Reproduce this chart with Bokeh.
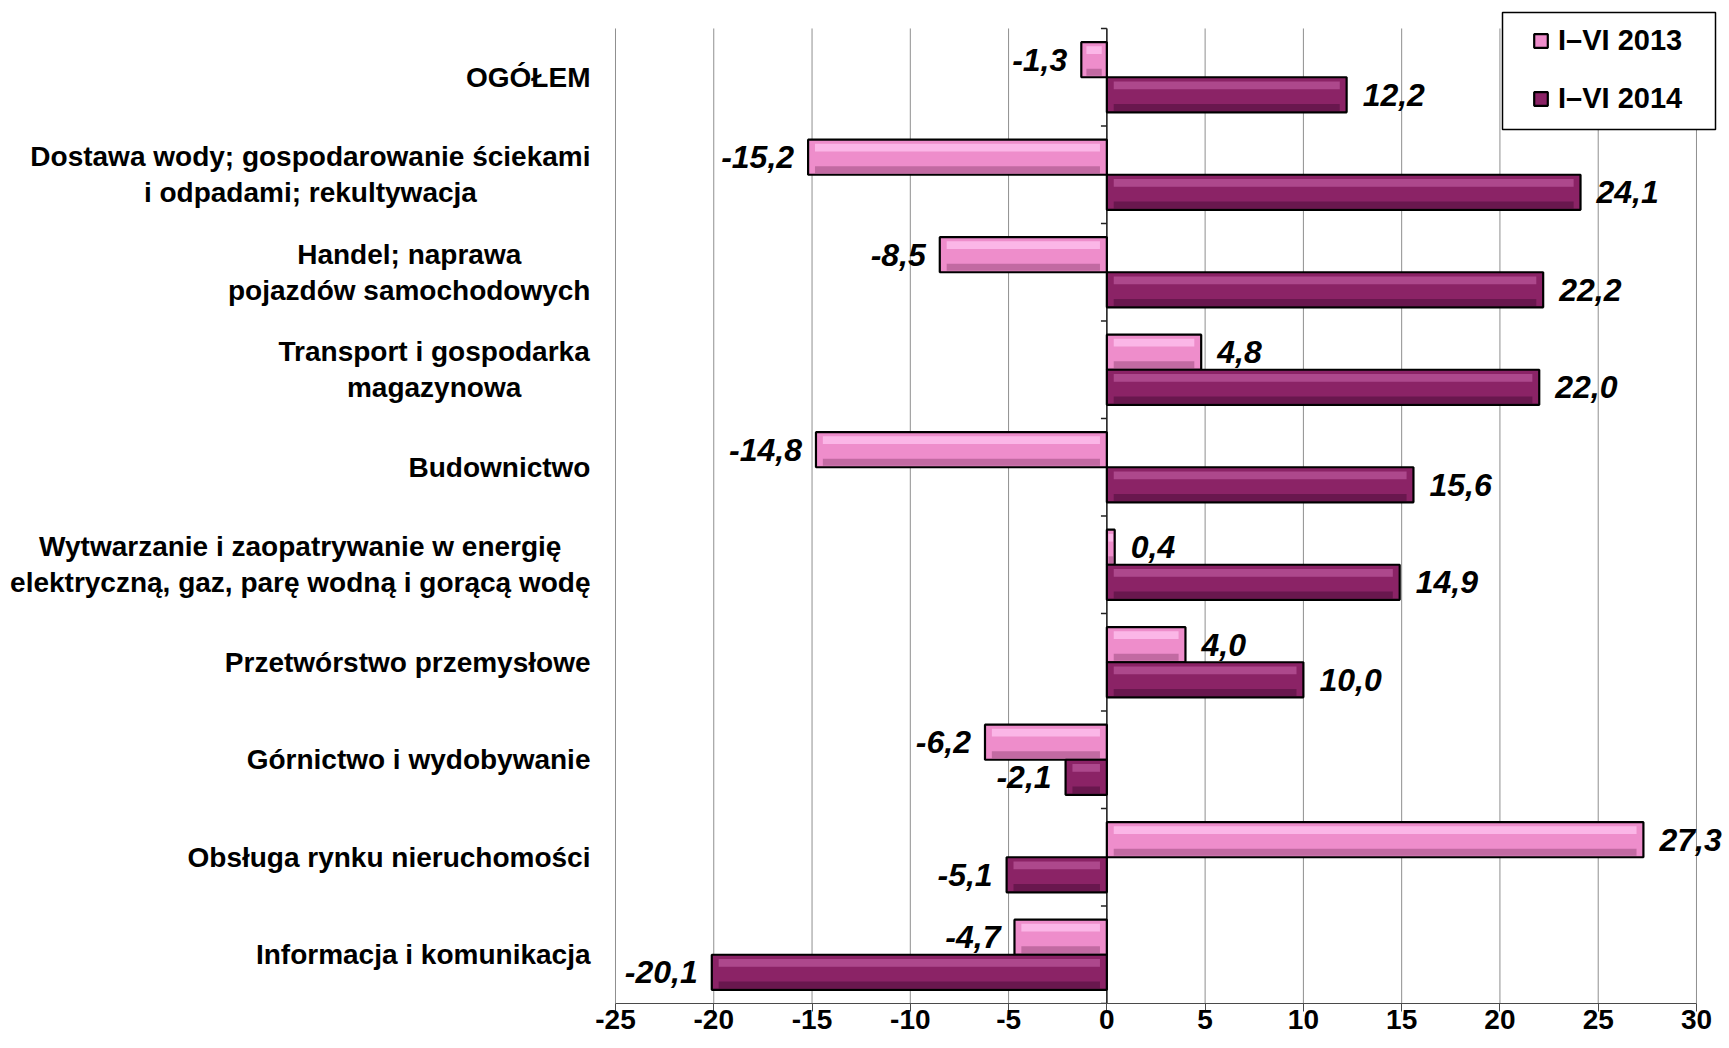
from bokeh.plotting import figure
from bokeh.models import (ColumnDataSource, Legend, LegendItem, FixedTicker, Range1d,
                          BoxAnnotation)
from bokeh.core.properties import value
from bokeh.embed import file_html
from bokeh.resources import INLINE

# ---------------- data ----------------
categories = [
    "OGÓŁEM",
    "Dostawa wody; gospodarowanie ściekami\ni odpadami; rekultywacja",
    "Handel; naprawa\npojazdów samochodowych",
    "Transport i gospodarka\nmagazynowa",
    "Budownictwo",
    "Wytwarzanie i zaopatrywanie w energię\nelektryczną, gaz, parę wodną i gorącą wodę",
    "Przetwórstwo przemysłowe",
    "Górnictwo i wydobywanie",
    "Obsługa rynku nieruchomości",
    "Informacja i komunikacja",
]
v2013 = [-1.3, -15.2, -8.5, 4.8, -14.8, 0.4, 4.0, -6.2, 27.3, -4.7]
v2014 = [12.2, 24.1, 22.2, 22.0, 15.6, 14.9, 10.0, -2.1, -5.1, -20.1]
series_names = ["I–VI 2013", "I–VI 2014"]
x_ticks = [-25, -20, -15, -10, -5, 0, 5, 10, 15, 20, 25, 30]
x_tick_labels = {t: str(t) for t in x_ticks}

FONT = "Liberation Sans"
CAT_SIZE = 28
BAR_H = 0.36
N = len(categories)

# approximate Arial/Liberation Sans Bold advance widths (em)
_W = {" ": .278, ",": .278, ";": .333, "-": .333, ".": .278,
      "A": .722, "B": .722, "C": .722, "D": .722, "E": .667, "F": .611, "G": .778,
      "H": .722, "I": .278, "J": .556, "K": .722, "L": .611, "M": .833, "N": .722,
      "O": .778, "P": .667, "Q": .778, "R": .722, "S": .667, "T": .611, "U": .722,
      "V": .667, "W": .944, "X": .667, "Y": .667, "Z": .611, "Ó": .778, "Ł": .611,
      "a": .556, "b": .611, "c": .556, "d": .611, "e": .556, "f": .333, "g": .611,
      "h": .611, "i": .278, "j": .278, "k": .556, "l": .278, "m": .889, "n": .611,
      "o": .611, "p": .611, "q": .611, "r": .389, "s": .556, "t": .333, "u": .611,
      "v": .556, "w": .778, "x": .556, "y": .556, "z": .5,
      "ą": .556, "ę": .556, "ś": .556, "ó": .611, "ł": .278, "ż": .5, "ź": .5,
      "ć": .556, "ń": .611}


def text_width(s, size):
    return sum(_W.get(ch, .556) for ch in s) * size


def fmt(v):
    return f"{v:.1f}".replace(".", ",")


# category centre positions (top category first)
ycent = [N - i - 0.5 for i in range(N)]

p = figure(width=1729, height=1048,
           x_range=Range1d(-56.29, 31.68), y_range=Range1d(0, N + 0.287),
           output_backend="svg", toolbar_location=None,
           min_border=0, min_border_left=0, min_border_right=0,
           min_border_top=0, min_border_bottom=45)
p.outline_line_color = None
p.background_fill_color = "white"
p.border_fill_color = "white"
p.yaxis.visible = False
p.xgrid.visible = False
p.ygrid.visible = False

ax = p.xaxis[0]
ax.ticker = FixedTicker(ticks=x_ticks)
ax.bounds = (x_ticks[0], x_ticks[-1])
ax.major_label_overrides = x_tick_labels
ax.major_label_text_font = FONT
ax.major_label_text_font_style = "bold"
ax.major_label_text_font_size = "28px"
ax.major_label_text_color = "black"
ax.major_label_standoff = -2
ax.major_tick_out = 8
ax.major_tick_in = 0
ax.minor_tick_line_color = None
ax.axis_line_color = "#4a4a4a"
ax.major_tick_line_color = "#4a4a4a"
ax.axis_line_width = 1.2

# vertical grid lines over the category area only
p.segment(x0=x_ticks, x1=x_ticks, y0=[0] * len(x_ticks), y1=[N] * len(x_ticks),
          line_color="#8f8f8f", line_width=1)
# zero axis with small category-boundary ticks
p.segment(x0=[0], x1=[0], y0=[0], y1=[N], line_color="#222222", line_width=1.5)
bounds = list(range(N + 1))
p.segment(x0=[0] * len(bounds), x1=[-0.3] * len(bounds), y0=bounds, y1=bounds,
          line_color="#222222", line_width=1.5)

styles = [
    dict(base="#EE8DCB", hi="#FFC4F0", shade="#9E4E82", off=BAR_H / 2),
    dict(base="#8B2366", hi="#B8559A", shade="#4E0E3A", off=-BAR_H / 2),
]

legend_items = []
for name, vals, st in zip(series_names, [v2013, v2014], styles):
    off = st["off"]
    left = [min(0, v) for v in vals]
    right = [max(0, v) for v in vals]
    inset = [min(0.35, abs(v) * 0.2) for v in vals]
    ybar = [y + off for y in ycent]
    src = ColumnDataSource(dict(
        y=ybar, val=vals, left=left, right=right,
        yhi=[y + BAR_H * 0.27 for y in ybar],
        ysh=[y - BAR_H * 0.36 for y in ybar],
        sl=[l + i for l, i in zip(left, inset)],
        sr=[r - i for r, i in zip(right, inset)],
        label=[fmt(v) for v in vals]))
    base = p.hbar(y="y", left="left", right="right", height=BAR_H,
                  fill_color=st["base"], line_color=None, source=src)
    p.hbar(y="yhi", left="sl", right="sr", height=BAR_H * 0.22,
           fill_color=st["hi"], fill_alpha=0.75, line_color=None, source=src)
    p.hbar(y="ysh", left="sl", right="sr", height=BAR_H * 0.2,
           fill_color=st["shade"], fill_alpha=0.55, line_color=None, source=src)
    outline = p.hbar(y="y", left="left", right="right", height=BAR_H,
                     fill_color=None, line_color="black", line_width=2.2, source=src)
    legend_items.append(LegendItem(label=name, renderers=[base, outline]))

    for keep, xo, al in [(lambda v: v >= 0, 16, "left"), (lambda v: v < 0, -14, "right")]:
        idx = [i for i, v in enumerate(vals) if keep(v)]
        s = ColumnDataSource(dict(x=[vals[i] for i in idx], y=[ybar[i] for i in idx],
                                  label=[fmt(vals[i]) for i in idx]))
        p.text(x="x", y="y", text="label", source=s, x_offset=xo, text_align=al,
               text_baseline="middle", text_font=value(FONT),
               text_font_style="bold italic", text_font_size="32px", text_color="black")

# category labels: right edge of the widest line sits 25px left of the -25 gridline
cat_src = ColumnDataSource(dict(
    x=[x_ticks[0]] * N, y=ycent, text=categories,
    xo=[-25 - max(text_width(line, CAT_SIZE) for line in c.split("\n")) / 2
        for c in categories]))
p.text(x="x", y="y", text="text", x_offset="xo", source=cat_src,
       text_align="center", text_baseline="middle", text_font=value(FONT),
       text_font_style="bold", text_font_size=f"{CAT_SIZE}px",
       text_line_height=1.16, text_color="black")

# legend frame (white, opaque) and the legend itself
p.add_layout(BoxAnnotation(left=1502, right=1715, top=991, bottom=874,
                           left_units="screen", right_units="screen",
                           top_units="screen", bottom_units="screen",
                           fill_color="white", fill_alpha=1.0,
                           line_color="black", line_width=1.5, line_alpha=1.0))
legend = Legend(items=legend_items, location=(1532, 888), orientation="vertical",
                padding=14, spacing=25, glyph_width=17, glyph_height=17,
                label_standoff=9, label_height=30, margin=0,
                label_text_font=FONT, label_text_font_style="bold",
                label_text_font_size="29px", label_text_color="black",
                border_line_color=None, background_fill_alpha=0.0)
p.add_layout(legend)

open("out.html", "w").write(file_html(p, INLINE))
